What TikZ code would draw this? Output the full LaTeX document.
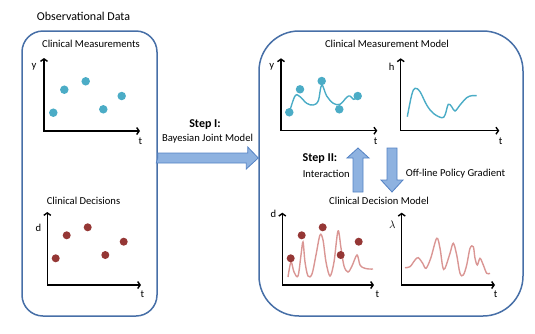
\documentclass[tikz,border=0pt]{standalone}
\usepackage{fontspec}
\setmainfont{Carlito}
\usepackage{tikz}
\usetikzlibrary{arrows.meta}
\definecolor{panelblue}{RGB}{71,111,167}
\definecolor{arrowfill}{RGB}{142,178,224}
\definecolor{arrowedge}{RGB}{84,130,196}
\definecolor{measteal}{RGB}{75,172,198}
\definecolor{decred}{RGB}{149,55,53}
\definecolor{decpink}{RGB}{218,150,148}
\tikzset{
  panel/.style={draw=panelblue, line width=1.5pt},
  axis/.style={line width=1.4pt, {Straight Barb[length=2.5pt,width=7pt]}-{Straight Barb[length=2.5pt,width=7pt]}},
  mdot/.style={circle, fill=measteal, inner sep=0pt, minimum size=8.5pt},
  ddot/.style={circle, fill=decred, inner sep=0pt, minimum size=8pt},
  mcurve/.style={draw=measteal, line width=1.4pt},
  dcurve/.style={draw=decpink, line width=1.4pt},
  bigarrow/.style={fill=arrowfill, draw=arrowedge, line width=0.8pt},
  lbl/.style={font=\fontsize{10.6}{12}\selectfont, inner sep=0pt},
  toplbl/.style={font=\fontsize{12}{14}\selectfont, inner sep=0pt},
  steplbl/.style={font=\fontsize{12}{14}\selectfont\bfseries, inner sep=0pt}
}

\begin{document}
\begin{tikzpicture}[x=1pt,y=-1pt]
\useasboundingbox (0,0) rectangle (535,333);
% panels
\node[panel, rounded corners=21pt, minimum width=135pt, minimum height=285pt] (obsbox) at (89.5,173.5) {};
\node[panel, rounded corners=40pt, minimum width=264pt, minimum height=285pt] (modelbox) at (391,173.5) {};
\node[toplbl] (obstitle) at (83.5,16.5) {Observational Data};

% observed measurements
\node[lbl] (meastitle) at (91,43.5) {Clinical Measurements};
\draw[axis] (44,58) |- (140,131);
\node[lbl] (my) at (34,67) {y};
\node[lbl] (mt) at (140.5,141) {t};
\node[mdot] (m1) at (53.3,112.7) {};
\node[mdot] (m2) at (64.3,89.7) {};
\node[mdot] (m3) at (85.7,81.3) {};
\node[mdot] (m4) at (103.3,109.3) {};
\node[mdot] (m5) at (121.7,96) {};

% observed decisions
\node[lbl] (dectitle) at (83.5,200.5) {Clinical Decisions};
\draw[axis] (47.3,212) -- (47.3,285) -- (141,285);
\node[lbl] (dy) at (38.5,228) {d};
\node[lbl] (dt) at (142.3,294.5) {t};
\node[ddot] (d1) at (55.7,258.3) {};
\node[ddot] (d2) at (66.7,235.3) {};
\node[ddot] (d3) at (87.7,227.3) {};
\node[ddot] (d4) at (105.3,255) {};
\node[ddot] (d5) at (123.7,241.7) {};

% step I
\node[steplbl] (stepone) at (205,125) {Step I:};
\node[lbl] (joint) at (207.5,138.3) {Bayesian Joint Model};
\coordinate (jointstart) at (obsbox.east |- 0,158);
\coordinate (jointend) at (modelbox.west |- 0,158);
\draw[bigarrow] (jointstart) -- ++(0,-5) -- ++(90,0) -- ++(0,-6) -- (jointend) -- ++(-12,11) -- ++(0,-6) -- ++(-90,0) -- cycle;

% measurement model
\node[lbl] (mmtitle) at (387,43.8) {Clinical Measurement Model};
\draw[axis] (281,58.3) |- (377.3,130.7);
\node[lbl] (mmy) at (271.7,67) {y};
\node[lbl] (mmt) at (375.7,141.5) {t};
\draw[mcurve] plot[smooth, tension=0.6] coordinates {(289.3,112.7) (295,96) (300,96.7) (306.7,103.3) (313.3,105) (318.3,100.7) (321.7,85) (326.7,96) (333.3,103.3) (340,104.3) (346.7,97.3) (350,96) (353.3,99.3) (356,98.3)};
\node[mdot] (mm1) at (289.3,112.3) {};
\node[mdot] (mm2) at (300,89.3) {};
\node[mdot] (mm3) at (321.7,81) {};
\node[mdot] (mm4) at (339.3,109.3) {};
\node[mdot] (mm5) at (357.7,96) {};
\draw[axis] (400.7,58.3) |- (499.3,130.7);
\node[lbl] (mmh) at (391.7,66.7) {h};
\node[lbl] (mmht) at (500.7,141.5) {t};
\draw[mcurve] plot[smooth, tension=0.6] coordinates {(407.3,116.7) (411.7,95) (415,88.3) (420,91.7) (426.7,105) (433.3,113.3) (441.7,117.7) (445,115) (448.3,104.3) (451.7,106.7) (455,111) (460,105) (466.7,97.7) (471.7,95.7) (476.7,95.7)};

% step II
\node[steplbl] (steptwo) at (320,158.3) {Step II:};
\node[lbl] (interact) at (326.3,174) {Interaction};
\node[lbl] (offline) at (455.5,173.5) {Off-line Policy Gradient};
\coordinate (uptip) at (358,148);
\coordinate (downtip) at (392,192);
\draw[bigarrow] (uptip) -- ++(11,10) -- ++(-6,0) -- ++(0,34) -- ++(-10,0) -- ++(0,-34) -- ++(-6,0) -- cycle;
\draw[bigarrow] (downtip) -- ++(11,-12) -- ++(-6,0) -- ++(0,-32) -- ++(-10,0) -- ++(0,32) -- ++(-6,0) -- cycle;

% decision model
\node[lbl] (dmtitle) at (379,200.5) {Clinical Decision Model};
\draw[axis] (282.3,212.7) |- (374,285);
\node[lbl] (dmd) at (273.3,214) {d};
\node[lbl] (dmt) at (377.3,294.5) {t};
\draw[dcurve] plot[smooth, tension=0.55] coordinates {(288,277) (291,262) (294,272) (298,276) (301,255) (303,242) (305,262) (308,276) (312,274) (316,255) (320,235) (323,240) (326,262) (330,276) (334,262) (338,231) (341,248) (344,266) (348,272) (352,266) (357,255) (360,265) (364,268) (369,269) (373,269)};
\node[ddot] (dm1) at (290.7,258.3) {};
\node[ddot] (dm2) at (301.7,235.3) {};
\node[ddot] (dm3) at (322.7,227.3) {};
\node[ddot] (dm4) at (340.7,255) {};
\node[ddot] (dm5) at (358.7,241.7) {};
\draw[axis] (401.7,212.7) |- (495,285);
\node[lbl] (dml) at (392.3,225) {$\lambda$};
\node[lbl] (dmlt) at (495.7,294.5) {t};
\draw[dcurve] plot[smooth, tension=0.55] coordinates {(405,267.7) (410,266.7) (415,260) (418.3,257.7) (422.7,263.3) (426,268.3) (430.7,258.3) (436.7,238.3) (440,248.3) (442.7,266.7) (445,268.3) (450,253.3) (453.3,243.3) (456.7,255) (460,273.3) (463.3,275) (466.7,265) (470,248.3) (473.3,246.7) (475,258.3) (477.3,265) (480,258.3) (483.3,265) (486.7,273.3) (490,273.3)};
\end{tikzpicture}
\end{document}
